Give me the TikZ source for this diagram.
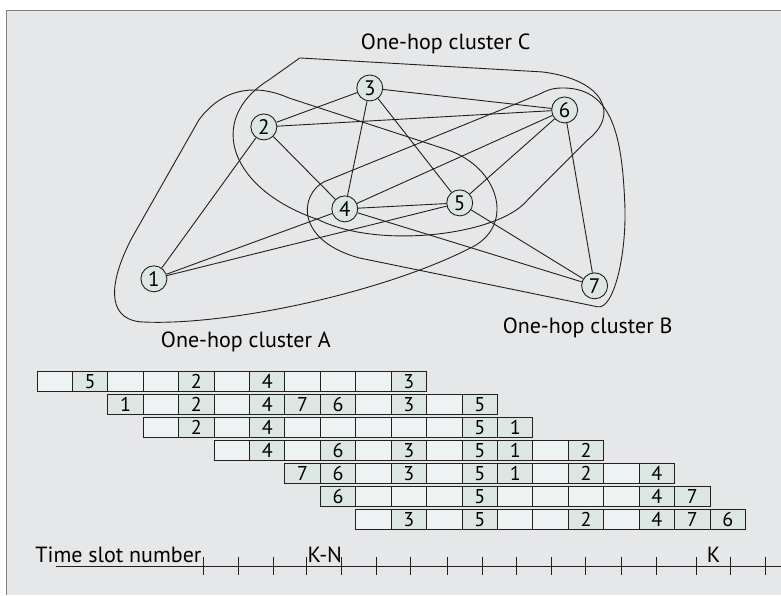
\documentclass[tikz,border=0pt]{standalone}
\usepackage{fontspec}
\setmainfont{PT Sans}
\usepackage{tikz}

\definecolor{paper}{HTML}{E6E7E8}
\definecolor{tint}{HTML}{DCE6E3}
\definecolor{pale}{HTML}{EDF2F2}
\definecolor{ink}{HTML}{231F20}
\definecolor{rim}{HTML}{7F7F7F}

% slot contents, 0 = free slot
\def\slotrowa{0,5,0,0,2,0,4,0,0,0,3}
\def\slotrowb{1,0,2,0,4,7,6,0,3,0,5}
\def\slotrowc{0,2,0,4,0,0,0,0,0,5,1}
\def\slotrowd{0,4,0,6,0,3,0,5,1,0,2}
\def\slotrowe{7,6,0,3,0,5,1,0,2,0,4}
\def\slotrowf{6,0,0,0,5,0,0,0,0,4,7}
\def\slotrowg{0,3,0,5,0,0,2,0,4,7,6}

\begin{document}
\begin{tikzpicture}
	[x=1pt,y=-1pt,line width=.9pt,
	 vertex/.style={circle,draw=ink,fill=tint,inner sep=0pt,minimum size=26pt,font=\fontsize{21}{21}\selectfont},
	 freeslot/.style={draw=ink,fill=pale,minimum width=35.45pt,minimum height=19.5pt,inner sep=0pt,outer sep=0pt,font=\fontsize{20}{20}\selectfont},
	 usedslot/.style={freeslot,fill=tint},
	 clustertext/.style={font=\fontsize{22}{22}\selectfont}]
	\fill[white] (0,0) rectangle (781,595);
	\fill[paper] (7,11) rectangle (781,595);
	\draw[rim,line width=1pt] (7,595) -- (7,11) -- (781,11);
	
	% one-hop clusters
	\draw[ink] (300,58) -- (543,72) .. controls (605,80) and (620,115) .. (588,140) -- (528,200)
		.. controls (500,235) and (380,250) .. (319,220) .. controls (230,190) and (205,120) .. (269,80) -- cycle;
	\draw[ink] (289,98) -- (448,150) .. controls (500,168) and (515,225) .. (473,247)
		.. controls (380,295) and (220,327) .. (140,322) .. controls (105,318) and (110,280) .. (132,238)
		-- (199,120) .. controls (225,85) and (260,85) .. (289,98) -- cycle;
	\draw[ink] (538,95) -- (324,182) .. controls (300,195) and (295,240) .. (359,258) -- (598,307)
		.. controls (615,310) and (628,250) .. (625,200) .. controls (622,130) and (610,88) .. (563,88)
		.. controls (550,88) and (545,92) .. (538,95) -- cycle;
	\node[clustertext] (clA) at (246,342) {One-hop cluster A};
	\node[clustertext] (clB) at (588,328) {One-hop cluster B};
	\node[clustertext] (clC) at (446,44) {One-hop cluster C};
	
	\node[vertex] (n1) at (154,279) {1};
	\node[vertex] (n2) at (264,127) {2};
	\node[vertex] (n3) at (370,88) {3};
	\node[vertex] (n4) at (345,209) {4};
	\node[vertex] (n5) at (460,203) {5};
	\node[vertex] (n6) at (565,110) {6};
	\node[vertex] (n7) at (595,286) {7};
	\foreach \from/\to in {n1/n2,n1/n4,n1/n5,n2/n3,n2/n4,n2/n6,n3/n4,n3/n5,n3/n6,n4/n5,n4/n6,n4/n7,n5/n6,n5/n7,n6/n7}
	\draw[ink] (\from) -- (\to);
	
	% time slots
	\foreach \r/\s/\lst in {0/0/\slotrowa,1/2/\slotrowb,2/3/\slotrowc,3/5/\slotrowd,4/7/\slotrowe,5/8/\slotrowf,6/9/\slotrowg} {
		\edef\cells{\lst}
		\foreach \v [count=\k from 0] in \cells {
			\ifnum\v=0
			\node[freeslot] (s\r-\k) at ({54.7+35.45*(\s+\k)},{381.75+23*\r}) {};
			\else
			\node[usedslot] (s\r-\k) at ({54.7+35.45*(\s+\k)},{381.75+23*\r}) {\v};
			\fi
		}
	}
	
	% time axis
	\draw[ink] (56,566.7) -- (781,566.7);
	\foreach \t in {204,239,274,307,342,377,411,448,483,517,552,586,622,657,697,731,766}
	\draw[ink] (\t,557) -- (\t,575);
	\node[clustertext,anchor=base west,inner sep=0pt] (ts) at (35,563) {Time slot number};
	\node[clustertext,anchor=base,inner sep=0pt] (kn) at (325,563) {K-N};
	\node[clustertext,anchor=base,inner sep=0pt] (k) at (714,563) {K};
\end{tikzpicture}
\end{document}
